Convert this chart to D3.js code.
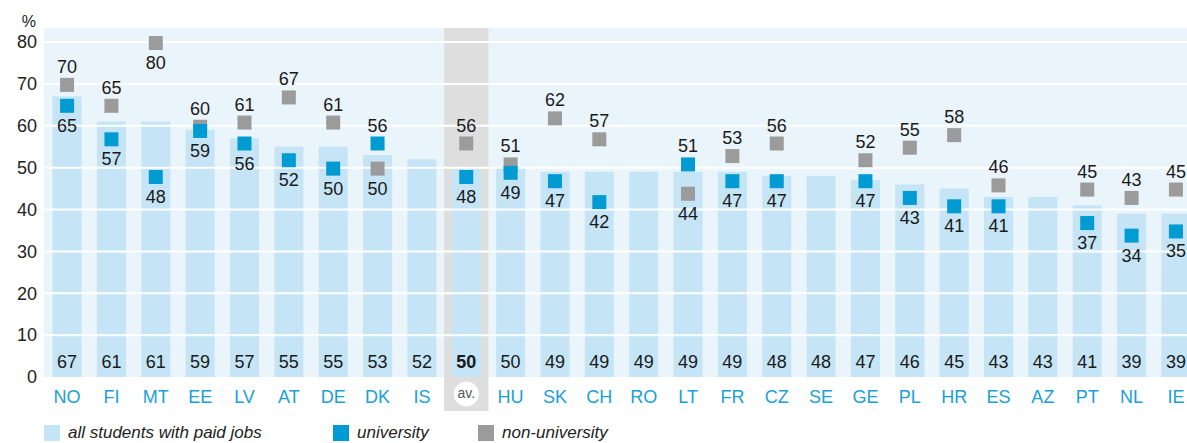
<!DOCTYPE html>
<html>
<head>
<meta charset="utf-8">
<script src="https://cdn.jsdelivr.net/npm/d3@7"></script>
<style>
  body { margin: 0; background: #fff; }
  svg { display: block; font-family: "Liberation Sans", Arial, sans-serif; }
</style>
</head>
<body>
<svg width="1187" height="443"></svg>
<script>
"use strict";

var countries = ["NO","FI","MT","EE","LV","AT","DE","DK","IS","av.","HU","SK","CH","RO","LT","FR","CZ","SE","GE","PL","HR","ES","AZ","PT","NL","IE"];
var allStudents = [67,61,61,59,57,55,55,53,52,50,50,49,49,49,49,49,48,48,47,46,45,43,43,41,39,39];
var university = [65,57,48,59,56,52,50,56,null,48,49,47,42,null,51,47,47,null,47,43,41,41,null,37,34,35];
var nonUniversity = [70,65,80,60,61,67,61,50,null,56,51,62,57,null,44,53,56,null,52,55,58,46,null,45,43,45];
var yTicks = [0,10,20,30,40,50,60,70,80];
var legendLabels = ["all students with paid jobs","university","non-university"];

var svg = d3.select("svg");

var xScale = d3.scaleBand().domain(countries).range([45, 1198]).paddingInner(0.345).paddingOuter(0.17);
var yScale = d3.scaleLinear().domain([0, 80]).range([377, 42]);

var colBar = "#c5e5f6", colUni = "#009bd2", colNon = "#9b9b9b", colBg = "#eaf4fb";

// plot background
svg.append("rect")
  .attr("x", 44).attr("y", 28)
  .attr("width", 1187 - 44).attr("height", yScale(0) - 28)
  .attr("fill", colBg);

// average column
var avX = xScale("av.") + xScale.bandwidth() / 2;
var step = xScale.step();
svg.append("rect")
  .attr("x", avX - step / 2).attr("y", 28)
  .attr("width", step).attr("height", 411 - 28)
  .attr("fill", "#dedede");

// bars
svg.selectAll(".bar")
  .data(countries)
  .enter().append("rect")
  .attr("class", "bar")
  .attr("x", function(d){ return xScale(d); })
  .attr("y", function(d, i){ return yScale(allStudents[i]); })
  .attr("width", xScale.bandwidth())
  .attr("height", function(d, i){ return yScale(0) - yScale(allStudents[i]); })
  .attr("fill", colBar);

// gridlines
svg.append("g")
  .selectAll("line")
  .data(yTicks.filter(function(t){ return t > 0; }))
  .enter().append("line")
  .attr("x1", 44).attr("x2", 1187)
  .attr("y1", function(d){ return yScale(d); })
  .attr("y2", function(d){ return yScale(d); })
  .attr("stroke", "#fff").attr("stroke-width", 2);

// y axis
var yAxis = svg.append("g")
  .attr("transform", "translate(37,0)")
  .call(d3.axisLeft(yScale).tickValues(yTicks).tickSize(0).tickPadding(0));
yAxis.select(".domain").remove();
yAxis.selectAll("text")
  .attr("font-size", 18).attr("fill", "#222")
  .attr("font-family", "Liberation Sans, Arial, sans-serif");

svg.append("text")
  .attr("x", 36).attr("y", 27)
  .attr("text-anchor", "end")
  .attr("font-size", 16).attr("fill", "#222")
  .text("%");

// x axis labels
var xAxis = svg.append("g")
  .attr("transform", "translate(0,386)")
  .call(d3.axisBottom(xScale).tickSize(0).tickPadding(0));
xAxis.select(".domain").remove();
xAxis.selectAll("text")
  .attr("font-family", "Liberation Sans, Arial, sans-serif")
  .attr("fill", function(d){ return d === "av." ? "#555" : "#1aa0d8"; })
  .attr("font-size", function(d){ return d === "av." ? 14 : 18; })
  .attr("dy", function(d){ return d === "av." ? 12 : 17; });

svg.append("circle")
  .attr("cx", avX).attr("cy", 394).attr("r", 12.5)
  .attr("fill", "#fff");
xAxis.raise();

// value labels at base of bars
svg.selectAll(".allLabel")
  .data(countries)
  .enter().append("text")
  .attr("class", "allLabel")
  .attr("x", function(d){ return xScale(d) + xScale.bandwidth() / 2; })
  .attr("y", 368)
  .attr("text-anchor", "middle")
  .attr("font-size", 18)
  .attr("font-weight", function(d){ return d === "av." ? "bold" : "normal"; })
  .attr("fill", "#1a1a1a")
  .text(function(d, i){ return allStudents[i]; });

// markers
var ms = 14;
function drawMarkers(values, other, color, cls){
  var pts = countries.map(function(c, i){ return {c: c, v: values[i], o: other[i]}; })
    .filter(function(p){ return p.v !== null; });
  svg.selectAll("." + cls)
    .data(pts)
    .enter().append("rect")
    .attr("class", cls)
    .attr("x", function(p){ return xScale(p.c) + xScale.bandwidth() / 2 - ms / 2; })
    .attr("y", function(p){ return yScale(p.v) - ms / 2 + 1; })
    .attr("width", ms).attr("height", ms)
    .attr("fill", color);
  return pts;
}
var nonPts = drawMarkers(nonUniversity, university, colNon, "nonMark");
var uniPts = drawMarkers(university, nonUniversity, colUni, "uniMark");

function drawLabels(pts, cls){
  svg.selectAll("." + cls)
    .data(pts)
    .enter().append("text")
    .attr("class", cls)
    .attr("x", function(p){ return xScale(p.c) + xScale.bandwidth() / 2; })
    .attr("y", function(p){
      var cy = yScale(p.v) + 1;
      var above = p.v >= p.o && cy - 30 > 28;
      return above ? cy - 12 : cy + 26;
    })
    .attr("text-anchor", "middle")
    .attr("font-size", 18)
    .attr("fill", "#1a1a1a")
    .text(function(p){ return p.v; });
}
drawLabels(nonPts, "nonLabel");
drawLabels(uniPts, "uniLabel");

// legend
var legendColors = [colBar, colUni, colNon];
var legendX = [44, 333, 478];
var legend = svg.selectAll(".legend")
  .data(legendLabels)
  .enter().append("g")
  .attr("class", "legend")
  .attr("transform", function(d, i){ return "translate(" + legendX[i] + ",425)"; });
legend.append("rect")
  .attr("width", 16).attr("height", 16)
  .attr("fill", function(d, i){ return legendColors[i]; });
legend.append("text")
  .attr("x", 24).attr("y", 13)
  .attr("font-size", 17).attr("font-style", "italic")
  .attr("fill", "#222")
  .text(function(d){ return d; });
</script>
</body>
</html>
